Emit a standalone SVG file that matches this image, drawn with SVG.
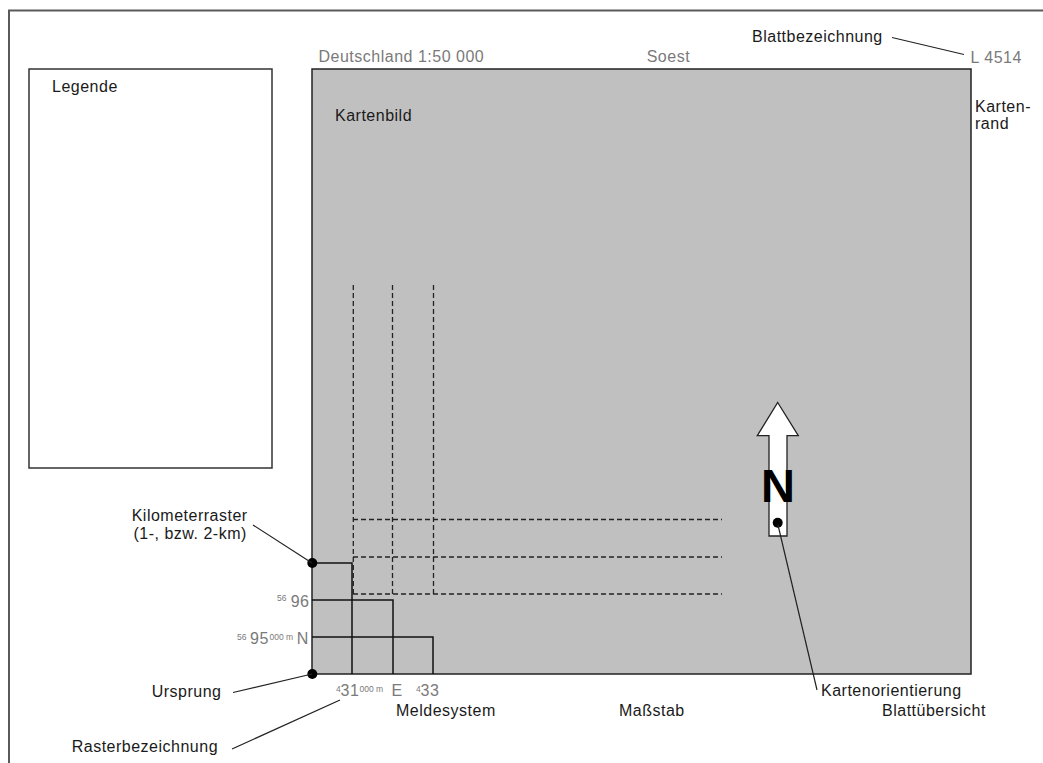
<svg xmlns="http://www.w3.org/2000/svg" width="1043" height="763" viewBox="0 0 1043 763">
  <style>
    text { font-family: "Liberation Sans", Arial, sans-serif; font-size: 16px; letter-spacing: 0.5px; }
    .blk { fill: #1a1a1a; }
    .gry { fill: #7a7a7a; }
    .sm { font-size: 8.5px; letter-spacing: 0; }
    .lead { stroke: #222; stroke-width: 1.2; fill: none; }
    .grid { stroke: #111; stroke-width: 1.5; fill: none; }
    .dash { stroke: #222; stroke-width: 1.3; stroke-dasharray: 5 3; fill: none; }
    .dot { fill: #000; }
  </style>

  <!-- outer sheet frame (partially visible) -->
  <g id="frame">
    <path d="M9,763 V10.5 H1043" fill="none" stroke="#5a5a5a" stroke-width="2"/>
  </g>

  <g id="legende">
    <rect x="29" y="69" width="243" height="399" fill="#fff" stroke="#333" stroke-width="1.5"/>
    <text class="blk" x="52" y="92">Legende</text>
  </g>

  <g id="kartenbild">
    <rect x="312" y="69" width="659" height="605" fill="#c0c0c0" stroke="#222" stroke-width="1.5"/>
    <text class="blk" x="335" y="121">Kartenbild</text>
  </g>

  <g id="kilometerraster-gestrichelt">
    <line class="dash" x1="353.3" y1="285" x2="353.3" y2="594"/>
    <line class="dash" x1="392.5" y1="285" x2="392.5" y2="594"/>
    <line class="dash" x1="433.5" y1="285" x2="433.5" y2="594"/>
    <line class="dash" x1="353" y1="519.5" x2="722" y2="519.5"/>
    <line class="dash" x1="353" y1="557" x2="722" y2="557"/>
    <line class="dash" x1="353" y1="594" x2="722" y2="594"/>
  </g>

  <g id="kilometerraster">
    <path class="grid" d="M312,563 H352 V674"/>
    <path class="grid" d="M312,600 H393 V674"/>
    <path class="grid" d="M312,637 H433 V674"/>
    <circle class="dot" cx="312.3" cy="563" r="5"/>
    <circle class="dot" cx="312.3" cy="674" r="5"/>
  </g>

  <g id="nordpfeil">
    <polygon points="777.7,402.5 798.3,435.7 787,435.7 787,536 769,536 769,435.7 757.3,435.7" fill="#fff" stroke="#222" stroke-width="1.3"/>
    <text x="778" y="502" text-anchor="middle" style="font-size:47px;font-weight:bold;letter-spacing:0" fill="#000">N</text>
    <circle class="dot" cx="777.7" cy="522.7" r="5"/>
  </g>

  <g id="randbeschriftung">
    <text class="gry" x="318.5" y="62">Deutschland 1:50 000</text>
    <text class="gry" x="646.7" y="62">Soest</text>
    <text class="blk" x="752" y="41.5">Blattbezeichnung</text>
    <text class="gry" x="970.5" y="62.5">L 4514</text>
    <text class="blk" x="975"><tspan x="975" y="111.5">Karten-</tspan><tspan x="975" y="129">rand</tspan></text>
    <text class="blk" x="131.7" y="521">Kilometerraster</text>
    <text class="blk" x="133.5" y="538.5">(1-, bzw. 2-km)</text>
    <text class="blk" x="151.7" y="697">Ursprung</text>
    <text class="blk" x="71.7" y="752">Rasterbezeichnung</text>
    <text class="blk" x="396" y="716">Meldesystem</text>
    <text class="blk" x="619" y="716">Maßstab</text>
    <text class="blk" x="882" y="716">Blattübersicht</text>
    <text class="blk" x="821" y="695.5">Kartenorientierung</text>
  </g>

  <g id="koordinaten">
    <text class="gry"><tspan class="sm" x="277" y="600.5">56</tspan><tspan x="290.7" y="606.5">96</tspan></text>
    <text class="gry"><tspan class="sm" x="237" y="639.5">56</tspan><tspan x="250" y="644">95</tspan><tspan class="sm" x="269.5" y="639.5">000 m</tspan><tspan x="296.8" y="644">N</tspan></text>
    <text class="gry"><tspan class="sm" x="336" y="692">4</tspan><tspan x="340.5" y="696">31</tspan><tspan class="sm" x="359.5" y="692">000 m</tspan><tspan x="391.5" y="696">E</tspan></text>
    <text class="gry"><tspan class="sm" x="416" y="692">4</tspan><tspan x="420.5" y="696">33</tspan></text>
  </g>

  <g id="connectors">
    <line class="lead" x1="892" y1="37.5" x2="964" y2="54.5"/>
    <line class="lead" x1="253" y1="525" x2="312" y2="563"/>
    <line class="lead" x1="233" y1="692.5" x2="312" y2="674"/>
    <line class="lead" x1="232" y1="749" x2="340" y2="700"/>
    <line class="lead" x1="778" y1="525" x2="817" y2="690"/>
  </g>
</svg>
